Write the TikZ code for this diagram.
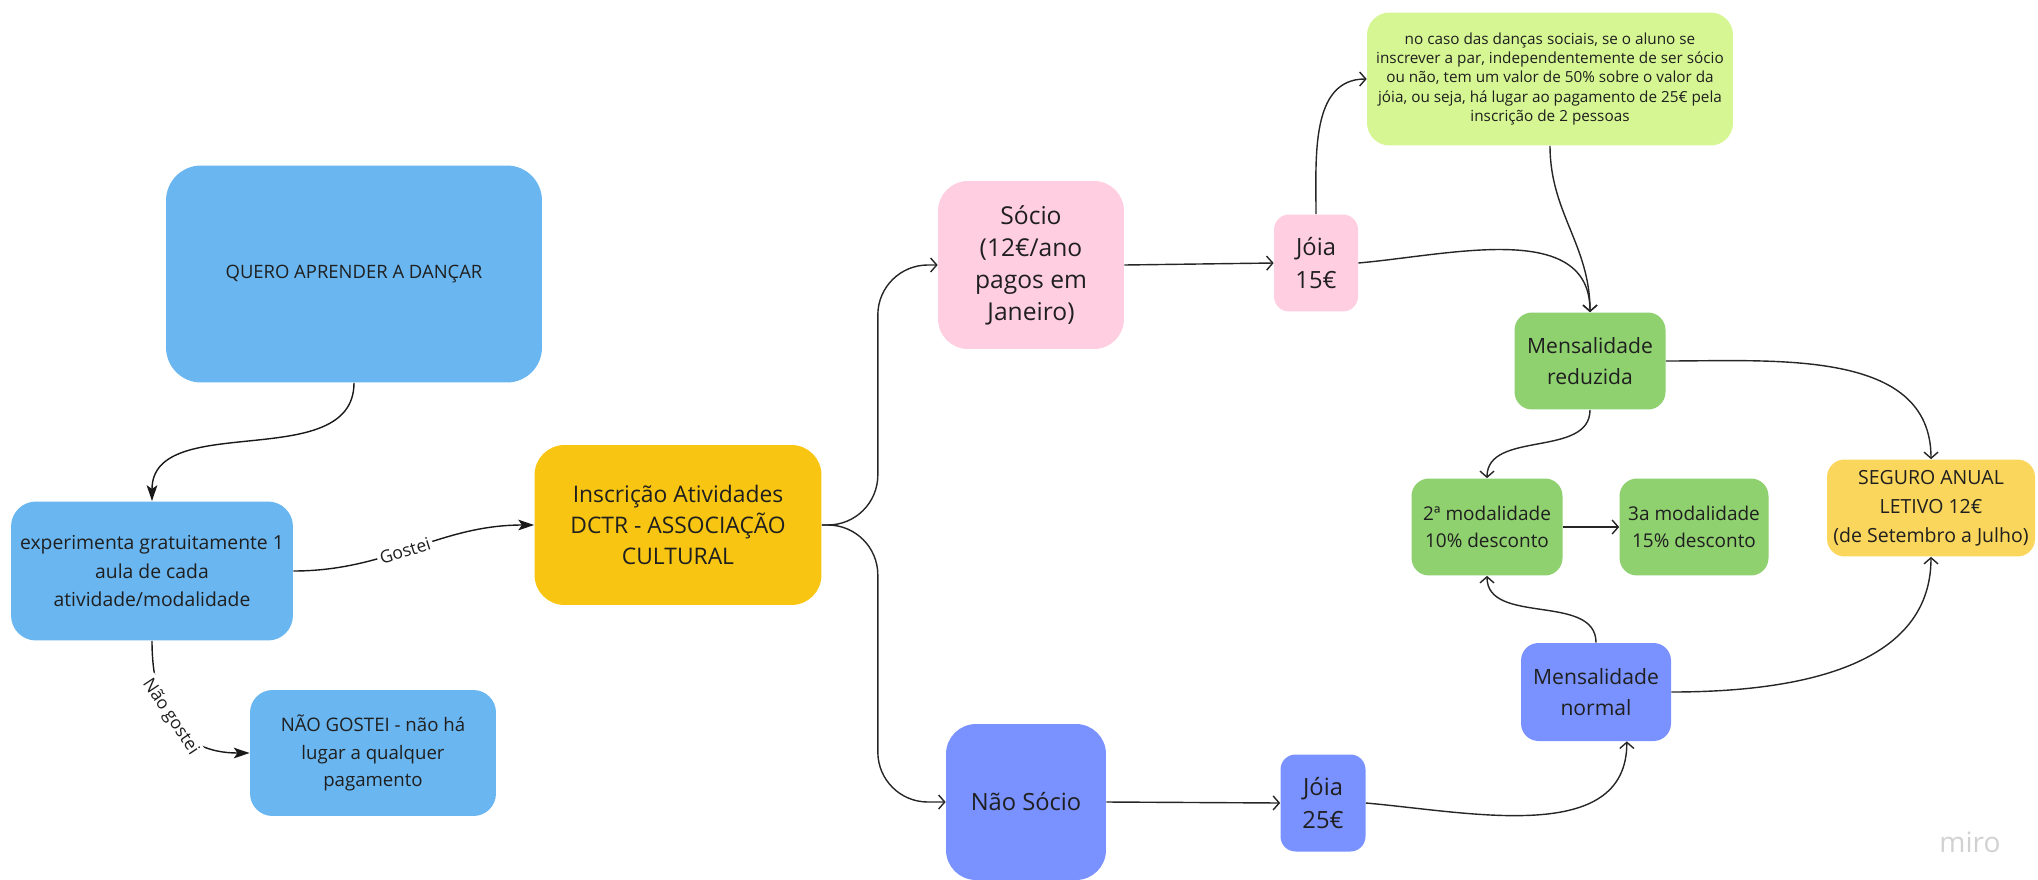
\documentclass[tikz,border=0pt]{standalone}
\usepackage{fontspec}
\setmainfont{Open Sans}
\usetikzlibrary{arrows.meta, positioning, calc}

\definecolor{skyblue}{RGB}{106,182,240}
\definecolor{gold}{RGB}{248,198,18}
\definecolor{paleyellow}{RGB}{250,214,92}
\definecolor{rosepink}{RGB}{255,206,224}
\definecolor{lime}{RGB}{213,246,146}
\definecolor{leaf}{RGB}{143,208,111}
\definecolor{periwinkle}{RGB}{122,146,255}

\begin{document}
\begin{tikzpicture}[
    x=0.02cm, y=0.02cm, % one unit = one pixel of the board
    card/.style={rounded corners=0.35cm, align=center, text=black!88, inner sep=0pt}, % Boxes
    txt/.style n args={2}{font=\fontsize{#1}{#2}\selectfont}, % Font size / line skip
    flow/.style={-{Stealth[length=9pt, width=6pt, inset=2pt]}, line width=0.8pt, black!90}, % Filled tips
    link/.style={-{Straight Barb[length=3.5pt, width=8pt]}, line width=0.8pt, black!85}, % Open tips
    tag/.style={fill=white, inner sep=1.5pt, text=black!88, txt={10}{12}} % Labels on connectors
]

    \useasboundingbox (0,0) rectangle (2038,-879);

    % === Left part ===
    \node[card, fill=skyblue, rounded corners=0.7cm, minimum width=7.52cm, minimum height=4.34cm, txt={10.5}{14}]
        (quero) at (354,-274) {QUERO APRENDER A DANÇAR};
    \node[card, fill=skyblue, rounded corners=0.5cm, minimum width=5.64cm, minimum height=2.78cm, txt={11}{16.2}]
        (exper) at (152,-571) {experimenta gratuitamente 1\\aula de cada\\atividade/modalidade};
    \node[card, fill=skyblue, rounded corners=0.45cm, minimum width=4.92cm, minimum height=2.52cm, txt={10.6}{15.5}]
        (naogostei) at (373,-753) {NÃO GOSTEI - não há\\lugar a qualquer\\pagamento};
    \node[card, fill=gold, rounded corners=0.6cm, minimum width=5.74cm, minimum height=3.2cm, txt={13}{17.5}]
        (inscricao) at (678,-525) {Inscrição Atividades\\DCTR - ASSOCIAÇÃO\\CULTURAL};

    % === Sócio / Não Sócio ===
    \node[card, fill=rosepink, rounded corners=0.6cm, minimum width=3.72cm, minimum height=3.36cm, txt={14}{18.2}]
        (socio) at (1031,-265) {Sócio\\(12€/ano\\pagos em\\Janeiro)};
    \node[card, fill=rosepink, rounded corners=0.3cm, minimum width=1.68cm, minimum height=1.94cm, txt={13.5}{19}]
        (joiaA) at (1316,-263) {Jóia\\15€};
    \node[card, fill=periwinkle, rounded corners=0.6cm, minimum width=3.2cm, minimum height=3.12cm, txt={13.5}{18}]
        (naosocio) at (1026,-802) {Não Sócio};
    \node[card, fill=periwinkle, rounded corners=0.3cm, minimum width=1.7cm, minimum height=1.94cm, txt={13.5}{19}]
        (joiaB) at (1323,-803) {Jóia\\25€};

    % === Right part ===
    \node[card, fill=lime, rounded corners=0.45cm, minimum width=7.32cm, minimum height=2.66cm, txt={8.7}{11}]
        (nota) at (1550,-79) {no caso das danças sociais, se o aluno se\\inscrever a par, independentemente de ser sócio\\ou não, tem um valor de 50\% sobre o valor da\\jóia, ou seja, há lugar ao pagamento de 25€ pela\\inscrição de 2 pessoas};
    \node[card, fill=leaf, minimum width=3.02cm, minimum height=1.94cm, txt={12}{17.5}]
        (mensred) at (1590,-361) {Mensalidade\\reduzida};
    \node[card, fill=leaf, minimum width=3.02cm, minimum height=1.94cm, txt={10.8}{15.4}]
        (mod2) at (1487,-527) {2ª modalidade\\10\% desconto};
    \node[card, fill=leaf, minimum width=2.98cm, minimum height=1.94cm, txt={10.8}{15.4}]
        (mod3) at (1694,-527) {3a modalidade\\15\% desconto};
    \node[card, fill=paleyellow, minimum width=4.16cm, minimum height=1.94cm, txt={11.1}{16.5}]
        (seguro) at (1931,-508) {SEGURO ANUAL\\LETIVO 12€\\(de Setembro a Julho)};
    \node[card, fill=periwinkle, minimum width=3.0cm, minimum height=1.96cm, txt={12}{17.5}]
        (mensnorm) at (1596,-692) {Mensalidade\\normal};

    \node[text=black!18, txt={16}{18}] (miro) at (1970,-842) {miro};

    % === Connectors ===
    \draw[flow] (quero.south) to[out=-90, in=90] (exper.north);
    \draw[flow] (exper.east) to[out=0, in=180] node[tag, sloped, pos=0.46] {Gostei} (inscricao.west);
    \draw[flow] (exper.south) to[out=-90, in=180, looseness=1.2] node[tag, sloped, pos=0.45] {Não gostei} (naogostei.west);

    \draw[link, rounded corners=1cm] (inscricao.east) -- ++(56,0) |- (socio.west);
    \draw[link, rounded corners=1cm] (inscricao.east) -- ++(56,0) |- (naosocio.west);

    \draw[link] (socio.east) -- (joiaA.west);
    \draw[link] (joiaA.north) to[out=90, in=180] (nota.west);
    \draw[link] (joiaA.east) to[out=5, in=90] (mensred.north);
    \draw[link] (nota.south) to[out=-90, in=90] (mensred.north);
    \draw[link] (mensred.east) to[out=0, in=90] (seguro.north);
    \draw[link] (mensred.south) to[out=-90, in=90] (mod2.north);
    \draw[link] (mod2.east) -- (mod3.west);

    \draw[link] (naosocio.east) -- (joiaB.west);
    \draw[link] (joiaB.east) to[out=-5, in=-90] (mensnorm.-58);
    \draw[link] (mensnorm.north) to[out=90, in=-90] (mod2.south);
    \draw[link] (mensnorm.east) to[out=0, in=-90] (seguro.south);

\end{tikzpicture}
\end{document}
